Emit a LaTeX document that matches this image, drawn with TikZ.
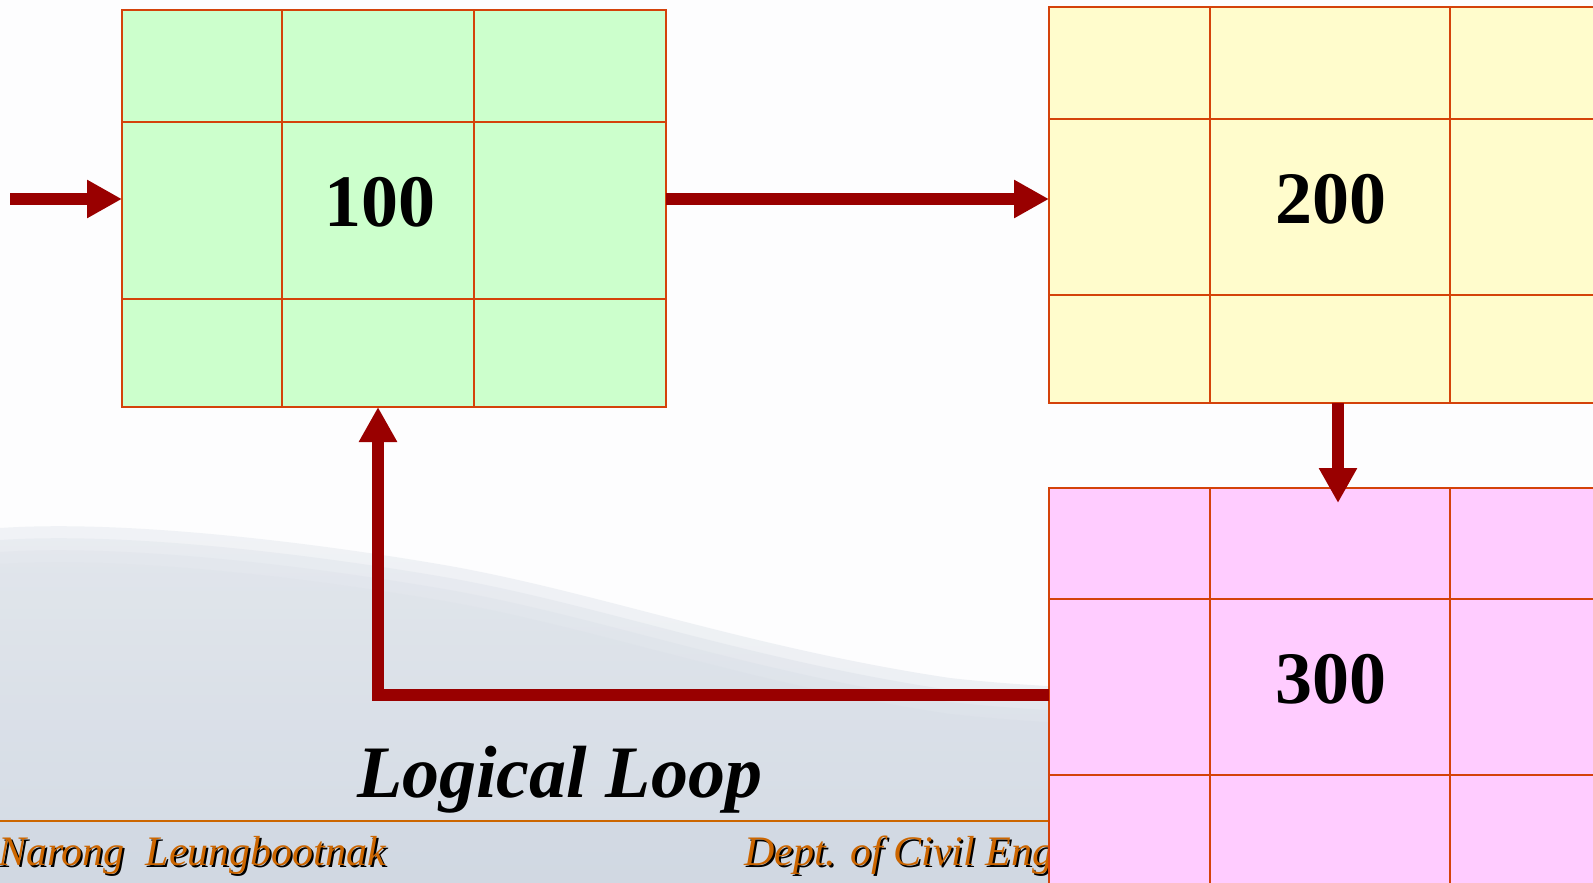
\documentclass[tikz,border=0pt]{standalone}
\usepackage{fontspec}
\setmainfont{Liberation Serif}
\usetikzlibrary{arrows.meta}
\definecolor{gfill}{RGB}{204,255,204}
\definecolor{yfill}{RGB}{255,252,204}
\definecolor{pfill}{RGB}{255,204,255}
\definecolor{gridc}{RGB}{212,66,10}
\definecolor{arrc}{RGB}{153,0,0}
\definecolor{footc}{RGB}{204,102,0}
\definecolor{hilltop}{RGB}{222,227,234}
\definecolor{hillbot}{RGB}{206,214,225}
\definecolor{bgc}{RGB}{253,253,254}
\begin{document}
\begin{tikzpicture}[x=1pt,y=-1pt,
  cellbox/.style={draw=gridc, line width=2pt, inner sep=0pt, outer sep=0pt, rectangle},
  gridline/.style={draw=gridc, line width=2pt},
  flow/.style={draw=arrc, line width=12pt, line join=miter, -{Triangle[width=36pt,length=35pt]}},
  num/.style={font=\fontsize{74}{74}\selectfont\bfseries, inner sep=0pt},
  foot/.style={font=\fontsize{42}{42}\selectfont\itshape, inner sep=0pt, anchor=base west},
  hill/.style={top color=hilltop, bottom color=hillbot, opacity=0.4}
]
\useasboundingbox (0,0) rectangle (1593,883);
\clip (0,0) rectangle (1593,883);
% background
\fill[bgc] (0,0) rectangle (1593,883);
\foreach \d in {-12,0,12,24} {
\shade[hill]
  (0,540+\d) .. controls (120,532+\d) and (300,552+\d) .. (450,578+\d)
  .. controls (600,605+\d) and (750,660+\d) .. (950,690+\d)
  .. controls (1150,712+\d) and (1400,700+\d) .. (1593,700+\d)
  -- (1593,883) -- (0,883) -- cycle;
}
\fill[hillbot, opacity=0.4] (0,821) rectangle (1593,883);
% footer
\draw[footc, line width=2pt] (0,821) -- (1049,821);
\node[foot, text=black] (authsh) at (0,867) {Narong\ \ Leungbootnak};
\node[foot, text=footc] (auth) at (-2,865) {Narong\ \ Leungbootnak};
\node[foot, text=black] (deptsh) at (746,867) {Dept. of Civil Eng};
\node[foot, text=footc] (dept) at (744,865) {Dept. of Civil Eng};
% title
\node[anchor=base west, inner sep=0pt, font=\fontsize{74}{74}\selectfont\bfseries\itshape] (title) at (357,797) {Logical Loop};
% boxes
\node[cellbox, fill=gfill, minimum width=544pt, minimum height=397pt] (b100) at (394,208.5) {};
\draw[gridline] (282,10) -- (282,407) (474,10) -- (474,407) (122,122) -- (666,122) (122,299) -- (666,299);
\node[cellbox, fill=yfill, minimum width=562pt, minimum height=396pt] (b200) at (1330,205) {};
\draw[gridline] (1210,7) -- (1210,403) (1450,7) -- (1450,403) (1049,119) -- (1611,119) (1049,295) -- (1611,295);
\node[cellbox, fill=pfill, minimum width=562pt, minimum height=396pt] (b300) at (1330,686) {};
\draw[gridline] (1210,488) -- (1210,884) (1450,488) -- (1450,884) (1049,599) -- (1611,599) (1049,775) -- (1611,775);
\node[num] (n100) at (380,202) {100};
\node[num] (n200) at (1331,199) {200};
\node[num] (n300) at (1331,679) {300};
% connectors
\coordinate (inA) at (10,199);
\draw[flow] (inA) -- (inA -| b100.west);
\draw[flow] (b100.east |- inA) -- (b200.west |- inA);
\coordinate (dtip) at (1338,503);
\draw[flow] (b200.south -| dtip) -- (dtip);
\coordinate (loopc) at (378,695);
\draw[flow] (b300.west |- loopc) -| (b100.south -| loopc);
\end{tikzpicture}
\end{document}
